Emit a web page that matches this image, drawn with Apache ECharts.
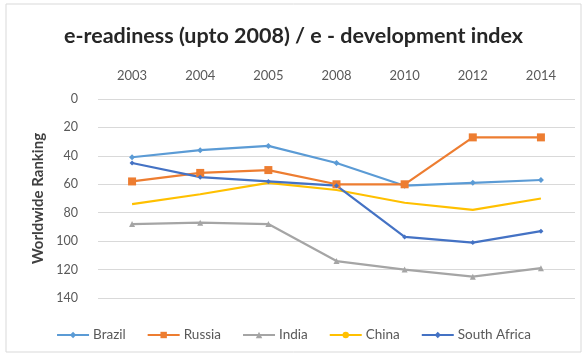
<!DOCTYPE html>
<html><head><meta charset="utf-8">
<script src="https://cdn.jsdelivr.net/npm/echarts@6/dist/echarts.min.js"></script>
<style>html,body{margin:0;padding:0;background:#fff}#c{width:587px;height:356px}</style>
</head><body><div id="c"></div>
<script>
const categories = ['2003','2004','2005','2008','2010','2012','2014'];
const brazil = [41, 36, 33, 45, 61, 59, 57];
const russia = [58, 52, 50, 60, 60, 27, 27];
const india = [88, 87, 88, 114, 120, 125, 119];
const china = [74, 67, 59, 64, 73, 78, 70];
const southAfrica = [45, 55, 58, 61, 97, 101, 93];
const yTicks = [0, 20, 40, 60, 80, 100, 120, 140];

const font = 'Lato, "Open Sans", sans-serif';
const chart = echarts.init(document.getElementById('c'));
function s(name, data, color, symbol, size, showSym) {
  return {name, type:'line', data, color, symbol, symbolSize:size, showSymbol:showSym!==false,
    lineStyle:{width:2.2, color}, itemStyle:{color}, z: 3};
}
chart.setOption({
  animation:false,
  backgroundColor:'#fff',
  graphic:[{type:'rect', shape:{x:6, y:4, width:575, height:348}, style:{fill:'none', stroke:'#d9d9d9', lineWidth:1}, silent:true}],
  title:{text:'e-readiness (upto 2008) / e - development index', left:'center', top:20,
    textStyle:{fontFamily:font, fontSize:21.5, fontWeight:'bold', color:'#262626'}},
  grid:{left:98, right:12, top:99, bottom:58},
  legend:{top:323, left:'center', itemWidth:32, itemHeight:8, itemGap:21,
    textStyle:{fontFamily:font, fontSize:13.5, color:'#595959', padding:[0,0,0,-1]},
    data:['Brazil','Russia','India','China','South Africa']},
  xAxis:{type:'category', position:'top', data:categories, boundaryGap:true,
    axisLine:{show:false}, axisTick:{show:false},
    axisLabel:{fontFamily:font, fontSize:13, color:'#595959', margin:17}},
  yAxis:{type:'value', inverse:true, min:0, max:140, interval:20,
    name:'Worldwide Ranking', nameLocation:'middle', nameGap:52, nameRotate:90,
    nameTextStyle:{fontFamily:font, fontSize:15, fontWeight:'bold', color:'#404040'},
    axisLine:{show:false}, axisTick:{show:false},
    axisLabel:{fontFamily:font, fontSize:12.5, color:'#595959', margin:20,
      formatter:v=>yTicks.includes(v)?String(v):''},
    splitLine:{lineStyle:{color:'#d9d9d9', width:1}}},
  series:[
    s('Brazil', brazil, '#5B9BD5', 'diamond', 6),
    s('Russia', russia, '#ED7D31', 'rect', 8),
    s('India', india, '#A5A5A5', 'triangle', 6),
    s('China', china, '#FFC000', 'none', 0, false),
    s('South Africa', southAfrica, '#4472C4', 'diamond', 5)
  ]
});
</script></body></html>
